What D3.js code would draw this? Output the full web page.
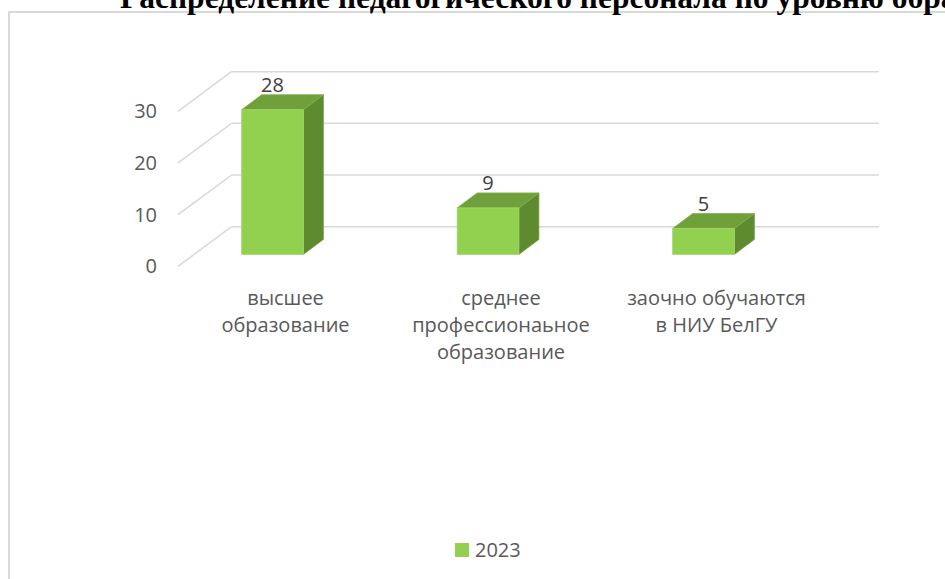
<!DOCTYPE html>
<html>
<head>
<meta charset="utf-8">
<script src="https://cdn.jsdelivr.net/npm/d3@7"></script>
<style>
  body { margin: 0; background: #ffffff; }
  svg { display: block; }
</style>
</head>
<body>
<script>
// chart data
const categories = ["высшее образование", "среднее профессионаьное образование", "заочно обучаются в НИУ БелГУ"];
const categoryLines = [["высшее", "образование"], ["среднее", "профессионаьное", "образование"], ["заочно обучаются", "в НИУ БелГУ"]];
const values2023 = [28, 9, 5];
const yTicks = [0, 10, 20, 30];
const seriesName = "2023";
const title = "Распределение педагогического персонала по уровню образования";

const width = 945, height = 579;
const font = "'Open Sans', 'Noto Sans', sans-serif";

const svg = d3.select("body").append("svg")
    .attr("width", width)
    .attr("height", height);

// chart frame (runs off the page on the right and bottom)
svg.append("rect")
    .attr("x", 9).attr("y", 12)
    .attr("width", 1000).attr("height", 700)
    .attr("fill", "none")
    .attr("stroke", "#d9d9d9")
    .attr("stroke-width", 2);

// title, mostly cut off at the top as in the source
svg.append("text")
    .attr("x", 120).attr("y", 8)
    .attr("font-family", "'Liberation Serif', 'Times New Roman', serif")
    .attr("font-weight", "bold")
    .attr("font-size", 31.5)
    .attr("fill", "#000")
    .text(title);

// 3d floor geometry
const floorFront = 266.3;   // y of the front floor edge at value 0
const wallDx = 53.5, wallDy = -39.6; // depth of the plot box
const wallLeft = 178, wallRight = 879;

const y = d3.scaleLinear().domain([0, 30]).range([0, 155]);

const x = d3.scaleBand()
    .domain(categories)
    .range([164.75, 811.25]);

const barW = 61.7;
const barDepth = 0.3;            // bar front sits 30% into the box
const barBase = floorFront + barDepth * wallDy;
const barDx = 20, barDy = -15;

// gridlines: back wall and left side wall
const grid = svg.append("g")
    .attr("stroke", "#d9d9d9")
    .attr("stroke-width", 1.5)
    .attr("fill", "none");

grid.selectAll(".back")
    .data(yTicks)
    .enter()
    .append("line")
    .attr("x1", wallLeft + wallDx)
    .attr("x2", wallRight)
    .attr("y1", d => floorFront + wallDy - y(d))
    .attr("y2", d => floorFront + wallDy - y(d));

grid.selectAll(".side")
    .data(yTicks)
    .enter()
    .append("line")
    .attr("x1", wallLeft)
    .attr("y1", d => floorFront - y(d))
    .attr("x2", wallLeft + wallDx)
    .attr("y2", d => floorFront + wallDy - y(d));

// y tick labels
svg.append("g").selectAll("text")
    .data(yTicks)
    .enter()
    .append("text")
    .attr("x", 157)
    .attr("y", d => floorFront - y(d) + 7)
    .attr("text-anchor", "end")
    .attr("font-family", font)
    .attr("font-size", 20)
    .attr("fill", "#595959")
    .text(d => d);

// bars
const bars = svg.append("g").selectAll("g")
    .data(categories.map((c, i) => ({ cat: c, value: values2023[i], lines: categoryLines[i] })))
    .enter()
    .append("g");

const bx = d => x(d.cat) + (x.bandwidth() - barW) / 2;
const barTop = d => barBase - y(d.value);

bars.append("polygon") // right side
    .attr("points", d => [
        [bx(d) + barW, barTop(d)],
        [bx(d) + barW + barDx, barTop(d) + barDy],
        [bx(d) + barW + barDx, barBase + barDy],
        [bx(d) + barW, barBase]
    ].join(" "))
    .attr("fill", "#5f8b30")
    .attr("stroke", "#6f9c3c")
    .attr("stroke-width", 0.8);

bars.append("polygon") // top
    .attr("points", d => [
        [bx(d), barTop(d)],
        [bx(d) + barDx, barTop(d) + barDy],
        [bx(d) + barW + barDx, barTop(d) + barDy],
        [bx(d) + barW, barTop(d)]
    ].join(" "))
    .attr("fill", "#70a03b")
    .attr("stroke", "#7fae48")
    .attr("stroke-width", 0.8);

bars.append("rect") // front
    .attr("x", bx)
    .attr("y", barTop)
    .attr("width", barW)
    .attr("height", d => y(d.value))
    .attr("fill", "#92d050")
    .attr("stroke", "#a3d96a")
    .attr("stroke-width", 0.8);

// value labels
bars.append("text")
    .attr("x", d => bx(d) + barW / 2)
    .attr("y", d => barTop(d) + barDy - 3)
    .attr("text-anchor", "middle")
    .attr("font-family", font)
    .attr("font-size", 20)
    .attr("fill", "#404040")
    .text(d => d.value);

// category labels
bars.append("text")
    .attr("text-anchor", "middle")
    .attr("font-family", font)
    .attr("font-size", 20)
    .attr("fill", "#595959")
    .selectAll("tspan")
    .data(d => d.lines.map(l => ({ line: l, cx: bx(d) + barW / 2 + 13 })))
    .enter()
    .append("tspan")
    .attr("x", d => d.cx)
    .attr("y", (d, i) => 305 + i * 27)
    .text(d => d.line);

// legend
const legend = svg.append("g");
legend.append("rect")
    .attr("x", 455).attr("y", 543)
    .attr("width", 14).attr("height", 14)
    .attr("fill", "#92d050");
legend.append("text")
    .attr("x", 475).attr("y", 557)
    .attr("font-family", font)
    .attr("font-size", 20)
    .attr("fill", "#595959")
    .text(seriesName);
</script>
</body>
</html>
